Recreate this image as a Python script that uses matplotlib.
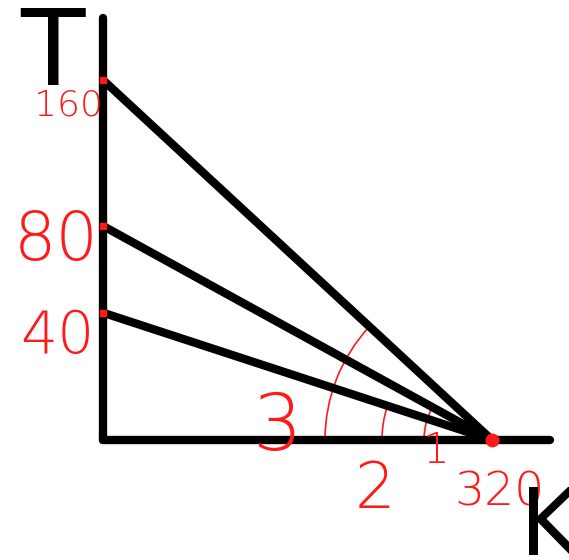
import numpy as np
import matplotlib
matplotlib.use('Agg')
import matplotlib.pyplot as plt
from matplotlib.patches import Arc
from matplotlib.transforms import IdentityTransform

# Datos del dibujo
t_values = [160, 80, 40]          # cortes en el eje T
k_intercept = 320                 # corte en el eje K
t_labels = ['160', '80', '40']
k_label = '320'
angle_labels = ['1', '2', '3']

black = '#000000'
red = '#ff1a1a'

fig = plt.figure(figsize=(5.69, 5.60), dpi=100)
ax = fig.add_axes([0, 0, 1, 1])
ax.axis('off')

# escala de T algo comprimida, como en el boceto
fwd = lambda t: np.sign(t) * np.abs(t) ** 0.75
inv = lambda g: np.sign(g) * np.abs(g) ** (4 / 3)
ax.set_yscale('function', functions=(fwd, inv))
unit = 360 / fwd(160)
ax.set_ylim(inv(-120 / unit), inv(440 / unit))
ax.set_xlim(-103 * 320 / 389, (569 - 103) * 320 / 389)

# ejes dibujados a mano
ax.plot([0, 0], [0, 198], color=black, lw=6, solid_capstyle='round')
ax.plot([0, 368], [0, 0], color=black, lw=6, solid_capstyle='round')

# rectas de T a K
for t in t_values:
    ax.plot([0, k_intercept], [t, 0], color=black, lw=6, solid_capstyle='round')
    ax.plot(0, t, marker='s', ms=5, color=red, mec=red)
ax.plot(k_intercept, 0, marker='o', ms=9, color=red, mec=red)

# etiquetas rojas
offsets = {'160': (-35, -36), '80': (-47, -34), '40': (-46, -40)}
sizes = {'160': 26, '80': 48, '40': 42}
for t, lab in zip(t_values, t_labels):
    ax.annotate(lab, xy=(0, t), xytext=offsets[lab], textcoords='offset pixels',
                ha='center', va='baseline', color=red, fontsize=sizes[lab],
                fontweight='light')
ax.annotate(k_label, xy=(k_intercept, 0), xytext=(8, -65), textcoords='offset pixels',
            ha='center', va='baseline', color=red, fontsize=34, fontweight='light')

# arcos de los ángulos
fig.canvas.draw()
vx, vy = ax.transData.transform((k_intercept, 0))
def line_angle(t):
    px, py = ax.transData.transform((0, t))
    return np.degrees(np.arctan2(py - vy, px - vx))

arcs = [(80, 68), (40, 110), (160, 167)]
for t, r in arcs:
    a = Arc((vx, vy), 2 * r, 2 * r, theta1=line_angle(t), theta2=180,
            color=red, lw=1.2, transform=IdentityTransform())
    ax.add_patch(a)

ang_offsets = {'1': (-56, -23), '2': (-117, -68), '3': (-215, -10)}
ang_sizes = {'1': 30, '2': 46, '3': 56}
for lab in angle_labels:
    ax.annotate(lab, xy=(k_intercept, 0), xytext=ang_offsets[lab], textcoords='offset pixels',
                ha='center', va='baseline', color=red, fontsize=ang_sizes[lab],
                fontweight='light')

# letras de los ejes
fig.text(53 / 569, 1 - 85 / 560, 'T', ha='center', va='baseline', fontsize=76, color=black)
fig.text(520 / 569, 1 - 555 / 560, 'K', ha='left', va='baseline', fontsize=66, color=black)

fig.savefig('out.png', dpi=100)
